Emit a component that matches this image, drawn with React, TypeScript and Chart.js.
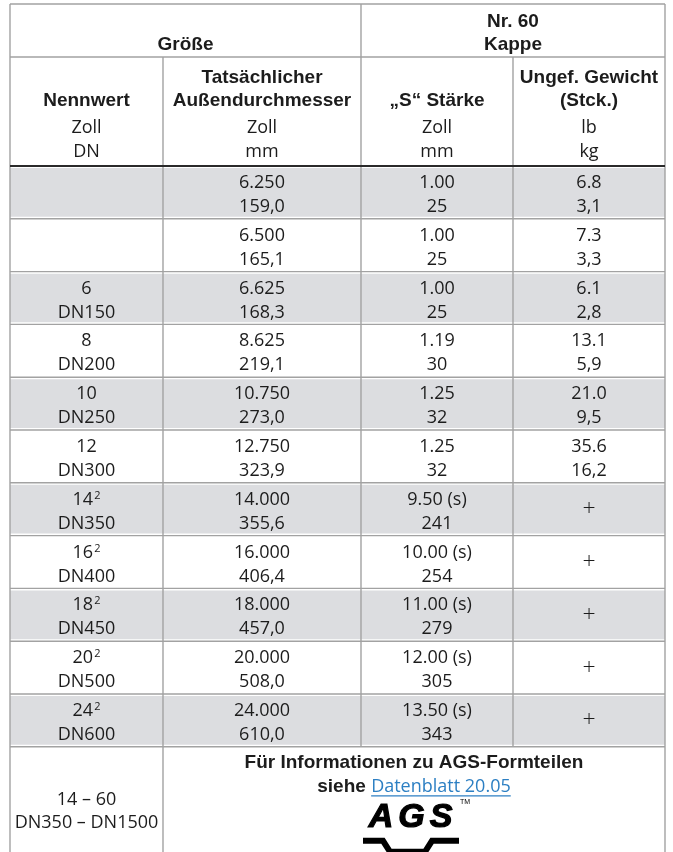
import React, { useEffect, useRef } from 'react';
import { Chart, registerables } from 'chart.js';

Chart.register(...registerables);

// ---------- data ----------
const nominalInch = ['', '', '6', '8', '10', '12', '14', '16', '18', '20', '24'];
const nominalNote = ['', '', '', '', '', '', '2', '2', '2', '2', '2'];
const nominalDN = ['', '', 'DN150', 'DN200', 'DN250', 'DN300', 'DN350', 'DN400', 'DN450', 'DN500', 'DN600'];
const outsideInch = [6.25, 6.5, 6.625, 8.625, 10.75, 12.75, 14, 16, 18, 20, 24];
const outsideMm = [159.0, 165.1, 168.3, 219.1, 273.0, 323.9, 355.6, 406.4, 457.0, 508.0, 610.0];
const wallInch = [1.0, 1.0, 1.0, 1.19, 1.25, 1.25, 9.5, 10.0, 11.0, 12.0, 13.5];
const wallSolid = [false, false, false, false, false, false, true, true, true, true, true];
const wallMm = [25, 25, 25, 30, 32, 32, 241, 254, 279, 305, 343];
const weightLb: (number | null)[] = [6.8, 7.3, 6.1, 13.1, 21.0, 35.6, null, null, null, null, null];
const weightKg: (number | null)[] = [3.1, 3.3, 2.8, 5.9, 9.5, 16.2, null, null, null, null, null];

const groupTitles = [['Größe'], ['Nr. 60', 'Kappe']];
const columnTitles = [['Nennwert'], ['Tatsächlicher', 'Außendurchmesser'], ['„S“ Stärke'], ['Ungef. Gewicht', '(Stck.)']];
const unitsImperial = ['Zoll', 'Zoll', 'Zoll', 'lb'];
const unitsMetric = ['DN', 'mm', 'mm', 'kg'];
const footerRange = ['14 – 60', 'DN350 – DN1500'];
const footerNote = 'Für Informationen zu AGS-Formteilen';
const footerLead = 'siehe';
const footerLink = 'Datenblatt 20.05';
const logoText = 'AGS';

// ---------- layout (scale units) ----------
const COLS = [0, 153, 351, 503, 655];
const HEAD1 = 53;
const HEAD2 = 162;
const ROW_H = 52.8;
const Y_MAX = 848;

const GREY = '#dcdde0';
const LINE = '#a2a2a2';
const TEXT = '#1c1c1c';
const BLUE = '#2c7fc3';
const BOLD = 'bold 19px "Liberation Sans", Arial, sans-serif';
const BODY = '18px "Open Sans", "Noto Sans", sans-serif';
const SUP = '11px "Open Sans", sans-serif';
const PLUS = '300 23px "Open Sans", sans-serif';

const fmtComma = (v: number, d: number) => v.toFixed(d).replace('.', ',');
const rowTop = (i: number) => HEAD2 + i * ROW_H;

const tablePlugin = {
  id: 'tableDraw',
  afterDatasetsDraw(chart: any) {
    const ctx: CanvasRenderingContext2D = chart.ctx;
    const xs = chart.scales.x;
    const ys = chart.scales.y;
    const px = (v: number) => xs.getPixelForValue(v);
    const py = (v: number) => ys.getPixelForValue(v);
    const n = outsideInch.length;
    const lastTop = rowTop(n);

    ctx.save();
    const hLine = (y: number, x0: number, x1: number, color = LINE, w = 1.4) => {
      ctx.beginPath();
      ctx.strokeStyle = color;
      ctx.lineWidth = w;
      ctx.moveTo(px(x0), py(y));
      ctx.lineTo(px(x1), py(y));
      ctx.stroke();
    };
    const vLine = (x: number, y0: number, y1: number) => {
      ctx.beginPath();
      ctx.strokeStyle = LINE;
      ctx.lineWidth = 1.4;
      ctx.moveTo(px(x), py(y0));
      ctx.lineTo(px(x), py(y1));
      ctx.stroke();
    };
    hLine(0, 0, COLS[4]);
    hLine(HEAD1, 0, COLS[4]);
    for (let i = 1; i <= n; i++) hLine(rowTop(i), 0, COLS[4]);
    vLine(COLS[0], 0, Y_MAX);
    vLine(COLS[4], 0, Y_MAX);
    vLine(COLS[1], HEAD1, Y_MAX);
    vLine(COLS[2], 0, lastTop);
    vLine(COLS[3], HEAD1, lastTop);
    hLine(HEAD2, 0, COLS[4], '#2a2a2a', 2);

    const center = (c0: number, c1: number) => px((COLS[c0] + COLS[c1]) / 2);
    const text = (s: string, x: number, y: number, font: string, color = TEXT) => {
      ctx.font = font;
      ctx.fillStyle = color;
      ctx.textAlign = 'center';
      ctx.textBaseline = 'alphabetic';
      ctx.fillText(s, x, y);
    };

    // header row 1
    text(groupTitles[0][0], center(0, 2), py(46), BOLD);
    text(groupTitles[1][0], center(2, 4), py(23), BOLD);
    text(groupTitles[1][1], center(2, 4), py(46), BOLD);

    // header row 2
    for (let c = 0; c < 4; c++) {
      const cx = center(c, c + 1);
      const t = columnTitles[c];
      if (t.length === 1) text(t[0], cx, py(102), BOLD);
      else {
        text(t[0], cx, py(79), BOLD);
        text(t[1], cx, py(102), BOLD);
      }
      text(unitsImperial[c], cx, py(129), BODY);
      text(unitsMetric[c], cx, py(153), BODY);
    }

    // data rows
    for (let i = 0; i < n; i++) {
      const top = rowTop(i);
      const b1 = py(top + 22);
      const b2 = py(top + 46);
      if (nominalInch[i]) {
        ctx.font = BODY;
        const mainW = ctx.measureText(nominalInch[i]).width;
        ctx.font = SUP;
        const supW = nominalNote[i] ? ctx.measureText(nominalNote[i]).width + 1 : 0;
        const x0 = center(0, 1) - (mainW + supW) / 2;
        ctx.textAlign = 'left';
        ctx.fillStyle = TEXT;
        ctx.font = BODY;
        ctx.fillText(nominalInch[i], x0, b1);
        if (nominalNote[i]) {
          ctx.font = SUP;
          ctx.fillText(nominalNote[i], x0 + mainW + 1, b1 - 6);
        }
      }
      if (nominalDN[i]) text(nominalDN[i], center(0, 1), b2, BODY);
      text(outsideInch[i].toFixed(3), center(1, 2), b1, BODY);
      text(fmtComma(outsideMm[i], 1), center(1, 2), b2, BODY);
      text(wallInch[i].toFixed(2) + (wallSolid[i] ? ' (s)' : ''), center(2, 3), b1, BODY);
      text(String(wallMm[i]), center(2, 3), b2, BODY);
      const lb = weightLb[i];
      const kg = weightKg[i];
      if (lb !== null && kg !== null) {
        text(lb.toFixed(1), center(3, 4), b1, BODY);
        text(fmtComma(kg, 1), center(3, 4), b2, BODY);
      } else {
        text('+', center(3, 4), py(top + ROW_H / 2 + 7), PLUS);
      }
    }

    // footer row
    text(footerRange[0], center(0, 1), py(lastTop + 58), BODY);
    text(footerRange[1], center(0, 1), py(lastTop + 81), BODY);
    const mx = center(1, 4);
    text(footerNote, mx, py(lastTop + 21), BOLD);
    ctx.font = BOLD;
    const leadW = ctx.measureText(footerLead + ' ').width;
    ctx.font = BODY;
    const linkW = ctx.measureText(footerLink).width;
    const sx = mx - (leadW + linkW) / 2;
    const lb2 = py(lastTop + 45);
    ctx.textAlign = 'left';
    ctx.font = BOLD;
    ctx.fillStyle = TEXT;
    ctx.fillText(footerLead + ' ', sx, lb2);
    ctx.font = BODY;
    ctx.fillStyle = BLUE;
    ctx.fillText(footerLink, sx + leadW, lb2);
    ctx.beginPath();
    ctx.strokeStyle = BLUE;
    ctx.lineWidth = 1.2;
    ctx.moveTo(sx + leadW, lb2 + 4);
    ctx.lineTo(sx + leadW + linkW, lb2 + 4);
    ctx.stroke();

    // logo
    const lx = mx - 4;
    const ly = py(lastTop + 80);
    ctx.fillStyle = '#000';
    ctx.strokeStyle = '#000';
    ctx.lineWidth = 1.2;
    ctx.font = 'italic 900 34px "Liberation Sans", Arial, sans-serif';
    (ctx as any).letterSpacing = '5px';
    ctx.textAlign = 'center';
    ctx.fillText(logoText, lx + 3, ly);
    ctx.strokeText(logoText, lx + 3, ly);
    (ctx as any).letterSpacing = '0px';
    ctx.font = '7px "Liberation Sans", sans-serif';
    ctx.textAlign = 'left';
    ctx.fillText('TM', lx + 50, ly - 23);
    ctx.beginPath();
    ctx.lineWidth = 6;
    ctx.lineJoin = 'miter';
    ctx.moveTo(lx - 47, ly + 14);
    ctx.lineTo(lx - 27, ly + 14);
    ctx.lineTo(lx - 20, ly + 25);
    ctx.lineTo(lx + 15, ly + 25);
    ctx.lineTo(lx + 22, ly + 14);
    ctx.lineTo(lx + 49, ly + 14);
    ctx.stroke();
    ctx.restore();
  },
};

export default function App() {
  const ref = useRef<HTMLCanvasElement | null>(null);
  useEffect(() => {
    document.body.style.margin = '0';
    document.body.style.background = '#ffffff';
    if (!ref.current) return;
    const chart = new Chart(ref.current, {
      type: 'bar',
      data: {
        datasets: [
          {
            label: 'rows',
            data: outsideInch.map((_, i) => ({ y: rowTop(i) + ROW_H / 2, x: [COLS[0], COLS[4]] })) as any,
            backgroundColor: outsideInch.map((_, i) => (i % 2 === 0 ? GREY : '#ffffff')),
            borderWidth: 0,
            categoryPercentage: 1,
            barPercentage: 1,
          },
        ],
      },
      options: {
        indexAxis: 'y',
        responsive: false,
        animation: false,
        events: [],
        layout: { padding: { left: 10, top: 4, right: 8, bottom: 0 } },
        scales: {
          x: { type: 'linear', min: COLS[0], max: COLS[4], display: false, offset: false },
          y: { type: 'linear', min: 0, max: Y_MAX, reverse: true, display: false, offset: false },
        },
        plugins: { legend: { display: false }, tooltip: { enabled: false } },
      },
      plugins: [tablePlugin],
    });
    return () => chart.destroy();
  }, []);
  return <canvas ref={ref} width={673} height={852} style={{ display: 'block' }} />;
}
